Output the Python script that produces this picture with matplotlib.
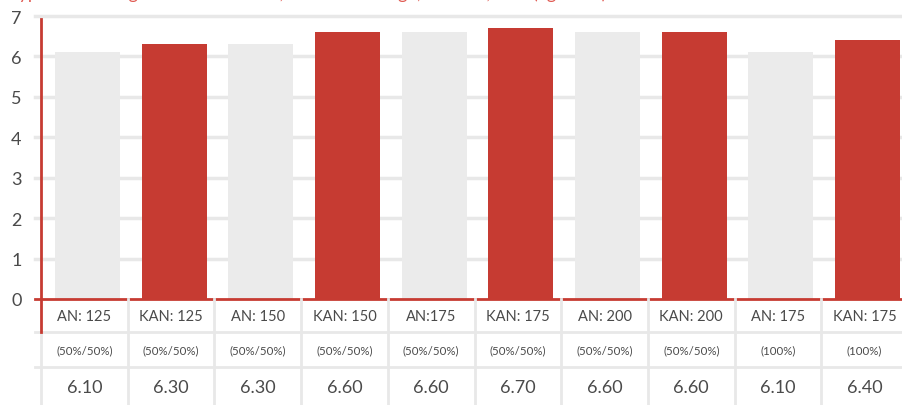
import matplotlib.pyplot as plt
import numpy as np

# data
labels = ['AN: 125', 'KAN: 125', 'AN: 150', 'KAN: 150', 'AN:175',
          'KAN: 175', 'AN: 200', 'KAN: 200', 'AN: 175', 'KAN: 175']
shares = ['(50%/50%)'] * 8 + ['(100%)', '(100%)']
values = [6.10, 6.30, 6.30, 6.60, 6.60, 6.70, 6.60, 6.60, 6.10, 6.40]
y_ticks = [0, 1, 2, 3, 4, 5, 6, 7]

RED = '#c63b32'
GREY = '#ebebeb'
GRID = '#e8e8e8'
TXT = '#4a4a4a'

plt.rcParams['font.family'] = ['Lato', 'DejaVu Sans']

W, H = 903, 406
fig = plt.figure(figsize=(W / 100, H / 100), dpi=100)

# category grid runs a bit past the right edge in the reference
x0, x1 = 41, 908
step = (x1 - x0) / 10
y_zero, y_top = 300, 17
ax = fig.add_axes([x0 / W, (H - y_zero) / H, (x1 - x0) / W, (y_zero - y_top) / H])

n = len(values)
x = np.arange(n)
colors = [GREY if i % 2 == 0 else RED for i in range(n)]
ax.bar(x + 3 / step, values, width=65 / step, color=colors, zorder=2)
ax.set_xlim(-0.5, n - 0.5)
ax.set_ylim(0, 7)
ax.set_yticks(y_ticks)
ax.set_yticklabels([str(t) for t in y_ticks], fontsize=13, color=TXT)
ax.tick_params(axis='y', length=0, pad=14)
ax.set_xticks([])
for s in ['top', 'right', 'bottom', 'left']:
    ax.spines[s].set_visible(False)

# gridlines reaching a little left of the axis
for t in y_ticks[1:]:
    ax.axhline(t, xmin=-6 / (x1 - x0), xmax=1, color=GRID, lw=2.5, zorder=1, clip_on=False)
ax.axhline(0, xmin=-6 / (x1 - x0), xmax=1, color=RED, lw=2, zorder=3, clip_on=False)

# table below the bars
tb = fig.add_axes([x0 / W, 0, (x1 - x0) / W, (H - y_zero) / H])
tb.set_xlim(-0.5, n - 0.5)
tb.set_ylim(H, y_zero)
tb.axis('off')
row_edges = [300, 333, 368, 406]
for i in range(n):
    tb.text(i, 317, labels[i], ha='center', va='center', fontsize=10.5, color=TXT)
    tb.text(i, 351, shares[i], ha='center', va='center', fontsize=8.3, color=TXT)
    tb.text(i, 388, f'{values[i]:.2f}', ha='center', va='center', fontsize=13, color=TXT)
for i in range(1, n):
    tb.plot([i - 0.5, i - 0.5], [300, H], color=GRID, lw=2, clip_on=False)
for yy in row_edges[1:3]:
    tb.plot([-0.5 - 6 / step, n - 0.5], [yy, yy], color=GRID, lw=2, clip_on=False)
tb.plot([-0.5, -0.5], [333, H], color=GRID, lw=2, clip_on=False)

# red vertical axis line through the first table row
fig.add_artist(plt.Line2D([x0 / W, x0 / W], [(H - 333) / H, (H - 20) / H],
                          color=RED, lw=2, transform=fig.transFigure))

# title, clipped at the top edge in the reference
fig.text(8 / W, 1 + 1.0 / H,
         'Typischer Ertrag: Anteil AN / KAN, Stickstoffmenge, Gesamt, Jahr (kg N/ha)',
         color='#e05a52', fontsize=13, va='baseline', ha='left')

fig.savefig('out.png', dpi=100)
